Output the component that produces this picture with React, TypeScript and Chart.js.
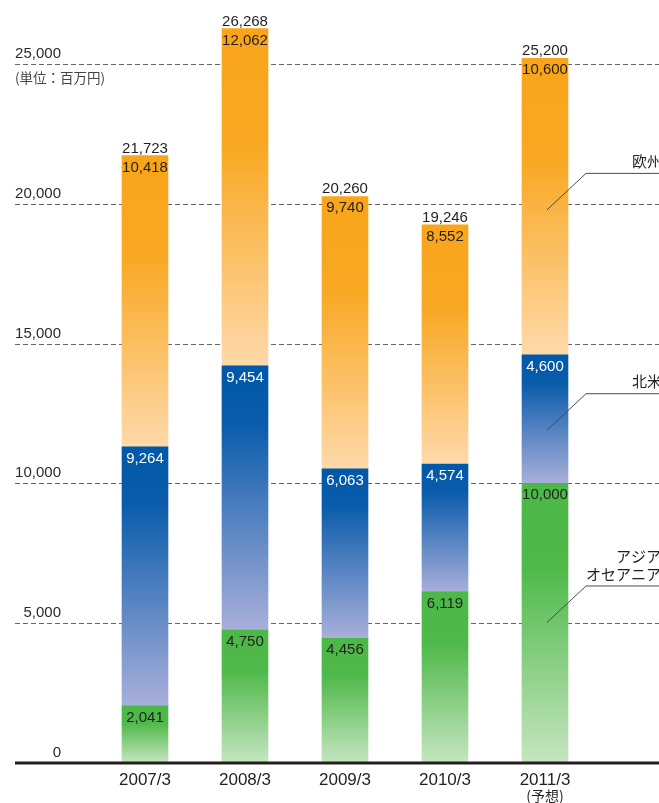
import React, { useEffect, useRef } from "react";
import { Chart, registerables } from "chart.js";

Chart.register(...registerables);

const categories = ["2007/3", "2008/3", "2009/3", "2010/3", "2011/3"];
const asia = [2041, 4750, 4456, 6119, 10000];
const northAmerica = [9264, 9454, 6063, 4574, 4600];
const europe = [10418, 12062, 9740, 8552, 10600];
const totals = [21723, 26268, 20260, 19246, 25200];
const gridTicks = [5000, 10000, 15000, 20000, 25000];
const tickLabels = [0, 5000, 10000, 15000, 20000, 25000];
const forecastNote = "(予想)";
const unitLabel = "(単位：百万円)";
const seriesNames = ["アジア\nオセアニア", "北米", "欧州"];
const leaderValues = [5025, 11900, 19780];

const series = [asia, northAmerica, europe];
const NUM_FONT = '"Liberation Sans", Arial, sans-serif';
const JP_FONT = '"Noto Sans CJK JP", sans-serif';
const fmt = (v: number) => v.toLocaleString("en-US");

const stopsList: [number, string][][] = [
  [[0, "#4cb848"], [0.3, "#4fb94a"], [1, "#c6e5c1"]],
  [[0, "#0058a8"], [0.22, "#0a5cab"], [1, "#a9afda"]],
  [[0, "#f8a51b"], [0.35, "#f9a823"], [1, "#fed9aa"]],
];

function makeGradient(dsIndex: number) {
  return (ctx: any) => {
    const chart = ctx.chart;
    const y = chart.scales && chart.scales.y;
    const i = ctx.dataIndex;
    const stops = stopsList[dsIndex];
    if (!y || i == null || !chart.chartArea) return stops[0][1];
    let base = 0;
    for (let k = 0; k < dsIndex; k++) base += series[k][i];
    const top = base + series[dsIndex][i];
    const y0 = y.getPixelForValue(top);
    const y1 = y.getPixelForValue(base);
    if (!isFinite(y0) || !isFinite(y1) || y0 === y1) return stops[0][1];
    const g = chart.ctx.createLinearGradient(0, y0, 0, y1);
    stops.forEach(([o, c]) => g.addColorStop(o, c));
    return g;
  };
}

const overlay = {
  id: "overlay",
  beforeDatasetsDraw(chart: any) {
    const c = chart.ctx;
    const y = chart.scales.y;
    c.save();
    c.strokeStyle = "#666";
    c.lineWidth = 1;
    c.setLineDash([5, 3]);
    gridTicks.forEach((v) => {
      const py = Math.round(y.getPixelForValue(v)) + 0.5;
      c.beginPath();
      c.moveTo(15, py);
      c.lineTo(chart.width, py);
      c.stroke();
    });
    c.restore();
  },
  afterDatasetsDraw(chart: any) {
    const c = chart.ctx;
    const y = chart.scales.y;
    const x = chart.scales.x;
    c.save();
    // baseline
    const y0 = y.getPixelForValue(0);
    c.strokeStyle = "#231f20";
    c.lineWidth = 3;
    c.beginPath();
    c.moveTo(15, y0);
    c.lineTo(chart.width, y0);
    c.stroke();

    // y tick labels
    c.fillStyle = "#2a2a2a";
    c.font = `15px ${NUM_FONT}`;
    c.textAlign = "right";
    c.textBaseline = "alphabetic";
    tickLabels.forEach((v) => {
      c.fillText(fmt(v), 61, y.getPixelForValue(v) - 6);
    });
    // unit label
    c.font = `13.5px ${JP_FONT}`;
    c.textAlign = "left";
    c.textBaseline = "middle";
    c.fillStyle = "#444";
    c.fillText(unitLabel, 15, y.getPixelForValue(25000) + 14);

    // segment labels
    c.font = `15px ${NUM_FONT}`;
    c.textAlign = "center";
    c.textBaseline = "alphabetic";
    series.forEach((arr, di) => {
      const meta = chart.getDatasetMeta(di);
      meta.data.forEach((bar: any, i: number) => {
        c.fillStyle = di === 1 ? "#ffffff" : "#231f20";
        c.fillText(fmt(arr[i]), bar.x, bar.y + 16);
      });
    });
    // totals
    const topMeta = chart.getDatasetMeta(2);
    c.fillStyle = "#231f20";
    topMeta.data.forEach((bar: any, i: number) => {
      c.fillText(fmt(totals[i]), bar.x, bar.y - 3);
    });

    // x labels
    c.font = `17px ${NUM_FONT}`;
    c.fillStyle = "#231f20";
    categories.forEach((lab, i) => {
      c.fillText(lab, x.getPixelForValue(i), 785);
    });
    c.font = `14px ${JP_FONT}`;
    c.textBaseline = "middle";
    c.fillText(forecastNote, x.getPixelForValue(categories.length - 1), 796);

    // leader lines and series names
    const lastX = x.getPixelForValue(categories.length - 1);
    c.strokeStyle = "#4a4a4a";
    c.lineWidth = 1;
    leaderValues.forEach((v, k) => {
      const sy = y.getPixelForValue(v);
      const ey = sy - 36.5;
      c.beginPath();
      c.moveTo(lastX + 2, sy);
      c.lineTo(lastX + 41, ey);
      c.lineTo(chart.width, ey);
      c.stroke();
      const lines = seriesNames[k].split("\n");
      c.font = `15px ${JP_FONT}`;
      c.fillStyle = "#231f20";
      c.textBaseline = "middle";
      if (lines.length === 1) {
        c.textAlign = "left";
        c.fillText(lines[0], 632, ey - 12);
      } else {
        c.textAlign = "right";
        c.fillText(lines[0], 661, ey - 30);
        c.fillText(lines[1], 661, ey - 12);
      }
    });
    c.restore();
  },
};

export default function App() {
  const ref = useRef<HTMLCanvasElement | null>(null);
  useEffect(() => {
    document.body.style.margin = "0";
    if (!ref.current) return;
    const chart = new Chart(ref.current, {
      type: "bar",
      data: {
        labels: categories,
        datasets: series.map((arr, di) => ({
          label: ["Asia", "NorthAmerica", "Europe"][di],
          data: arr,
          backgroundColor: makeGradient(di) as any,
          borderWidth: 0,
          barThickness: 46,
        })),
      },
      options: {
        responsive: false,
        animation: false,
        events: [],
        layout: { padding: { left: 95, right: 64, top: 8, bottom: 40 } },
        plugins: { legend: { display: false }, tooltip: { enabled: false } },
        scales: {
          x: { stacked: true, display: false, offset: true },
          y: { stacked: true, display: false, min: 0, max: 27000 },
        },
      },
      plugins: [overlay],
    });
    return () => chart.destroy();
  }, []);
  return (
    <div style={{ width: 659, height: 803 }}>
      <canvas ref={ref} width={659} height={803} style={{ display: "block" }} />
    </div>
  );
}
